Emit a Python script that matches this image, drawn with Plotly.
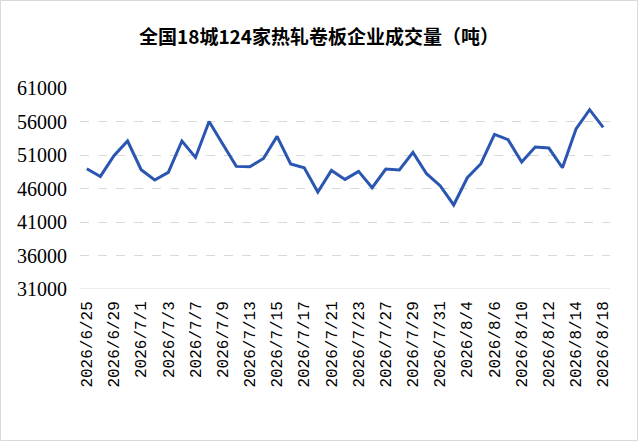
import plotly.graph_objects as go

# 交易日期
dates = [
    "2026/6/25", "2026/6/26", "2026/6/29", "2026/6/30", "2026/7/1", "2026/7/2",
    "2026/7/3", "2026/7/6", "2026/7/7", "2026/7/8", "2026/7/9", "2026/7/10",
    "2026/7/13", "2026/7/14", "2026/7/15", "2026/7/16", "2026/7/17", "2026/7/20",
    "2026/7/21", "2026/7/22", "2026/7/23", "2026/7/24", "2026/7/27", "2026/7/28",
    "2026/7/29", "2026/7/30", "2026/7/31", "2026/8/3", "2026/8/4", "2026/8/5",
    "2026/8/6", "2026/8/7", "2026/8/10", "2026/8/11", "2026/8/12", "2026/8/13",
    "2026/8/14", "2026/8/17", "2026/8/18",
]

# 成交量（吨）
volume = [
    48950, 47800, 50900, 53090, 48800, 47270, 48400, 53090, 50640, 56010,
    52650, 49300, 49250, 50490, 53780, 49660, 49100, 45480, 48700, 47360,
    48550, 46120, 48910, 48760, 51390, 48210, 46420, 43540, 47610, 49700,
    54070, 53280, 49950, 52190, 52040, 49100, 54880, 57760, 55120,
]

y_ticks = [31000, 36000, 41000, 46000, 51000, 56000, 61000]

line_trace = go.Scatter(
    x=dates,
    y=volume,
    mode='lines',
    line=dict(width=3, color='#2A56B2'),
    hoverinfo='x+y'
)

fig = go.Figure(data=[line_trace])
fig.update_layout(
    width=638,
    height=441,
    title=dict(
        text="<b>全国18城124家热轧卷板企业成交量（吨）</b>",
        x=0.5,
        xanchor='center',
        y=1 - 37 / 441,
        yanchor='middle',
        font=dict(family="Noto Sans CJK SC", size=19, color='#000000')
    ),
    showlegend=False,
    plot_bgcolor='white',
    paper_bgcolor='white',
    margin=dict(l=80, r=28, t=88, b=152),
    shapes=[dict(
        type='rect', xref='paper', yref='paper',
        x0=-79.5 / 530, x1=1 + 27.5 / 530, y0=-151.5 / 201, y1=1 + 87.5 / 201,
        line=dict(color='#D9D9D9', width=1)
    )]
)

fig.update_xaxes(
    type='category',
    range=[-0.5, len(dates) - 0.5],
    tickmode='array',
    tickvals=dates[::2],
    ticktext=dates[::2],
    tickangle=-90,
    showgrid=False,
    showline=False,
    ticks='',
    ticklabelstandoff=8,
    tickfont=dict(family="Liberation Mono", size=16, color='#000000')
)

fig.update_yaxes(
    range=[31000, 61000],
    tickmode='array',
    tickvals=y_ticks,
    ticktext=[str(v) for v in y_ticks],
    showgrid=True,
    gridcolor='#D9D9D9',
    griddash='dash',
    gridwidth=1,
    zeroline=False,
    showline=False,
    ticks='',
    ticklabelstandoff=12,
    tickfont=dict(family="Liberation Serif", size=20, color='#000000')
)

# 底部实线
fig.add_hline(y=31000, line=dict(color='#D9D9D9', width=1))

fig.write_html("out.html", config={'displayModeBar': False},
               post_script="document.body.style.margin='0';")
